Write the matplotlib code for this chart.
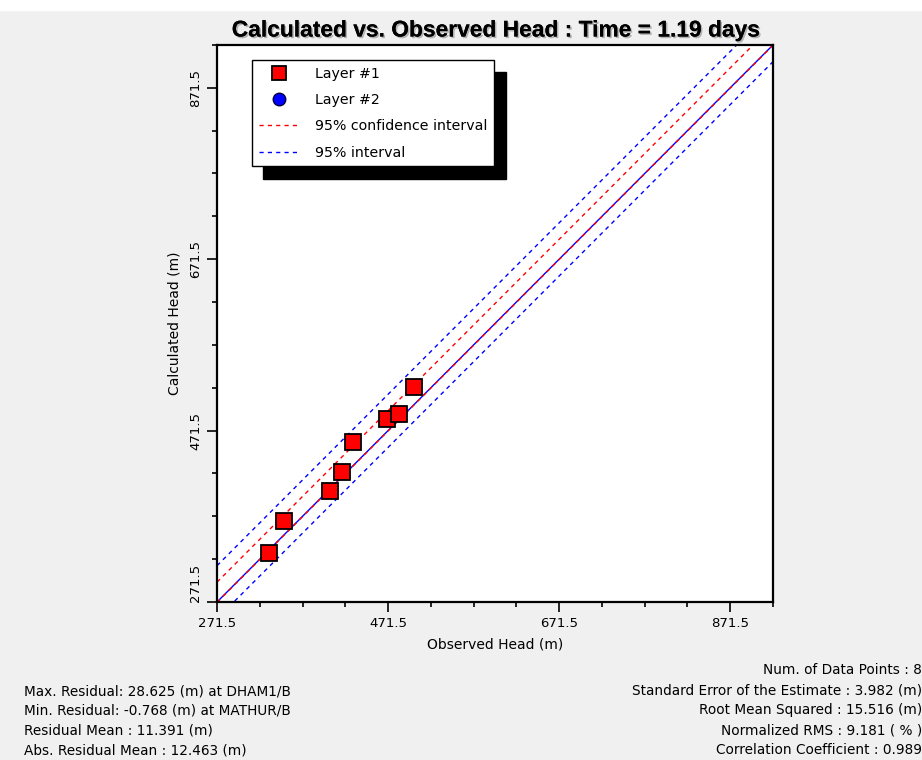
import numpy as np
import matplotlib.pyplot as plt
import matplotlib.patheffects as pe
from matplotlib.ticker import MultipleLocator

plt.rcParams['font.family'] = ['DejaVu Sans']

# observed vs calculated heads (m), Layer #1
observed = [332.5, 349.6, 403.3, 418.1, 430.5, 470.5, 483.7, 501.2]
calculated = [329.0, 366.0, 401.3, 422.8, 458.5, 484.9, 490.4, 521.9]

# interval lines, offsets from the 1:1 line (m)
residual_mean = 11.391
conf_half = 11.8
pred_half = 31.0

axis_min, axis_max = 271.5, 921.5
major_ticks = [271.5, 471.5, 671.5, 871.5]

left_stats = ['Max. Residual: 28.625 (m) at DHAM1/B',
              'Min. Residual: -0.768 (m) at MATHUR/B',
              'Residual Mean : 11.391 (m)',
              'Abs. Residual Mean : 12.463 (m)']
right_stats = ['Num. of Data Points : 8',
               'Standard Error of the Estimate : 3.982 (m)',
               'Root Mean Squared : 15.516 (m)',
               'Normalized RMS : 9.181 ( % )',
               'Correlation Coefficient : 0.989']

fig = plt.figure(figsize=(9.22, 7.6), dpi=100, facecolor='#f0f0f0')
# white strip at the very top
fig.patches.append(plt.Rectangle((0, 0.987), 1, 0.013, transform=fig.transFigure,
                                 color='white', zorder=0))
ax = fig.add_axes([0.2354, 0.2079, 0.603, 0.733])

xs = np.array([axis_min, axis_max])
dash = (0, (3, 3))
ax.plot(xs, xs, color='blue', lw=1)
ax.plot(xs, xs + residual_mean + pred_half, color='blue', lw=1, ls=dash,
        label='95% interval')
ax.plot(xs, xs + residual_mean - pred_half, color='blue', lw=1, ls=dash)
ax.plot(xs, xs + residual_mean + conf_half, color='red', lw=1, ls=dash,
        label='95% confidence interval')
ax.plot(xs, xs + residual_mean - conf_half, color='red', lw=1, ls=dash)

ax.plot(observed, calculated, ls='none', marker='s', ms=11.5, mfc='red',
        mec='black', mew=1.3, label='Layer #1', zorder=5)
# Layer #2 has no points, legend entry only
ax.plot([], [], ls='none', marker='o', ms=11, mfc='blue', mec='#000040',
        label='Layer #2')

ax.set_xlim(axis_min, axis_max)
ax.set_ylim(axis_min, axis_max)
ax.set_xticks(major_ticks)
ax.set_yticks(major_ticks)
ax.xaxis.set_minor_locator(MultipleLocator(50, offset=21.5))
ax.yaxis.set_minor_locator(MultipleLocator(50, offset=21.5))
ax.tick_params(which='major', direction='out', length=7, width=1.2, labelsize=9.5)
ax.tick_params(which='minor', direction='out', length=3.5, width=1.2)
ylabels = ax.get_yticklabels()
for lbl in ylabels:
    lbl.set_rotation(90)
    lbl.set_va('center')
ylabels[0].set_va('bottom')  # bottom label kept inside the axis range
for sp in ax.spines.values():
    sp.set_linewidth(1.6)

ax.set_xlabel('Observed Head (m)', fontsize=10, labelpad=6)
ax.set_ylabel('Calculated Head (m)', fontsize=10, labelpad=6)
fig.text(0.537, 1 - 30 / 760, 'Calculated vs. Observed Head : Time = 1.19 days',
         fontsize=16.4, fontweight='bold', family='Liberation Sans',
         ha='center', va='center',
         path_effects=[pe.withSimplePatchShadow(offset=(1.2, -1.2), alpha=0.25),
                       pe.Normal()])

handles, labels = ax.get_legend_handles_labels()
order = [labels.index(k) for k in ['Layer #1', 'Layer #2',
                                   '95% confidence interval', '95% interval']]
leg = ax.legend([handles[i] for i in order], [labels[i] for i in order],
                loc='upper left', bbox_to_anchor=(0.063, 0.973), borderaxespad=0,
                fontsize=10.2, fancybox=False, framealpha=1, edgecolor='black',
                handlelength=2.9, handletextpad=1.1, borderpad=0.47,
                labelspacing=0.87, markerscale=0.82,
                shadow={'color': 'black', 'alpha': 1, 'ox': 8, 'oy': -9})
leg.get_frame().set_linewidth(1)

for i, t in enumerate(left_stats):
    fig.text(0.026, 1 - (691.5 + i * 19.5) / 760, t, fontsize=9.8, va='center')
for i, t in enumerate(right_stats):
    fig.text(1.0, 1 - (670 + i * 20) / 760, t, fontsize=9.8, va='center', ha='right')

fig.savefig('out.png', dpi=100, facecolor=fig.get_facecolor())
